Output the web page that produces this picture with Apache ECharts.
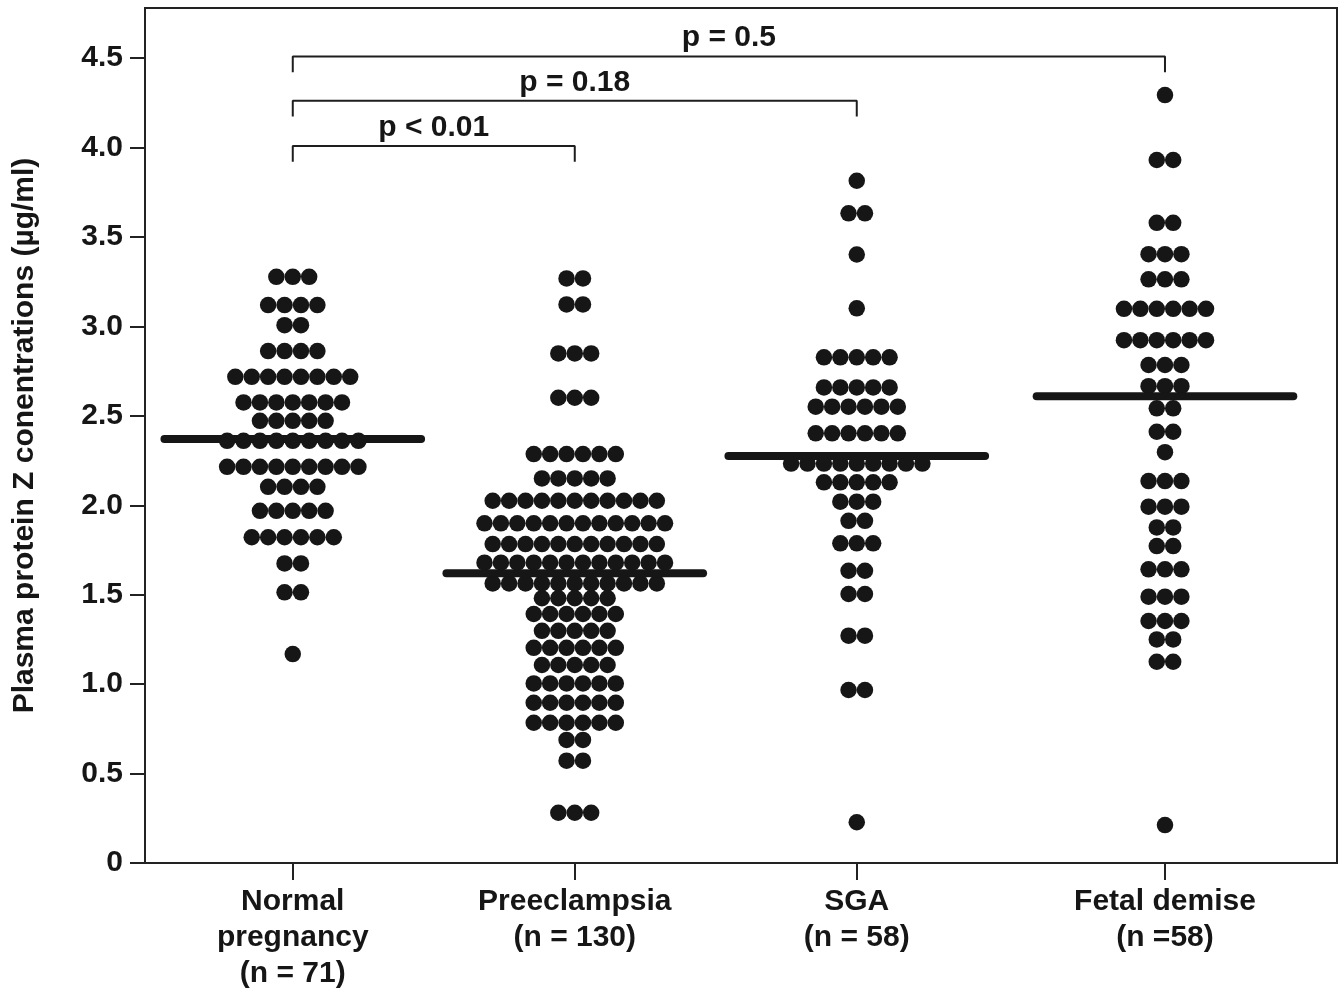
<!DOCTYPE html>
<html>
<head>
<meta charset="utf-8">
<script src="https://cdn.jsdelivr.net/npm/echarts@6/dist/echarts.min.js"></script>
<style>
html,body{margin:0;padding:0;background:#fff;}
#chart{width:1344px;height:994px;}
</style>
</head>
<body>
<div id="chart"></div>
<script>
// ---- data ----
const groupLabels = ['Normal\npregnancy\n(n = 71)', 'Preeclampsia\n(n = 130)', 'SGA\n(n = 58)', 'Fetal demise\n(n =58)'];
const groupPos = [1, 2, 3, 4.093];
const yTicks = [0, 0.5, 1.0, 1.5, 2.0, 2.5, 3.0, 3.5, 4.0, 4.5];
// rows: [value, number of dots at that value]
const normalRows = [[3.277,3],[3.119,4],[3.007,2],[2.862,4],[2.718,8],[2.575,7],[2.472,5],[2.360,9],[2.215,9],[2.103,4],[1.969,5],[1.821,6],[1.675,2],[1.513,2],[1.168,1]];
const preeclampsiaRows = [[3.268,2],[3.123,2],[2.849,3],[2.601,3],[2.286,6],[2.150,5],[2.025,11],[1.899,12],[1.783,11],[1.679,12],[1.563,11],[1.480,5],[1.392,6],[1.298,5],[1.203,6],[1.107,5],[1.004,6],[0.896,6],[0.784,6],[0.688,2],[0.572,2],[0.281,3]];
const sgaRows = [[3.814,1],[3.632,2],[3.402,1],[3.101,1],[2.827,5],[2.659,5],[2.551,6],[2.402,6],[2.233,9],[2.128,5],[2.020,3],[1.913,2],[1.787,3],[1.634,2],[1.504,2],[1.271,2],[0.967,2],[0.228,1]];
const fetalRows = [[4.293,1],[3.930,2],[3.579,2],[3.404,3],[3.263,3],[3.098,6],[2.923,6],[2.784,3],[2.666,3],[2.542,2],[2.411,2],[2.297,1],[2.135,3],[1.992,3],[1.876,2],[1.772,2],[1.642,3],[1.489,3],[1.353,3],[1.250,2],[1.125,2],[0.212,1]];
const groupMeans = [2.370, 1.620, 2.275, 2.610];
const brackets = [
  {from: 0, to: 1, y: 4.008, text: 'p < 0.01'},
  {from: 0, to: 2, y: 4.261, text: 'p = 0.18'},
  {from: 0, to: 3, y: 4.509, text: 'p = 0.5'}
];

// ---- layout constants ----
const dotStep = 0.0582;   // horizontal step between dots (x units)
const meanHalf = 0.455;   // half-width of mean bar (x units)
const legLen = 0.088;     // bracket leg length (y units)
const ink = '#161616';
const font = '"Liberation Sans", Arial, Helvetica, sans-serif';
const fs = 30;

const allRows = [normalRows, preeclampsiaRows, sgaRows, fetalRows];
const dots = [];
allRows.forEach((rows, g) => {
  rows.forEach(([v, n]) => {
    for (let i = 0; i < n; i++) {
      dots.push([groupPos[g] + (i - (n - 1) / 2) * dotStep, v]);
    }
  });
});

const series = [{
  type: 'scatter',
  data: dots,
  symbol: 'circle',
  symbolSize: 16.5,
  itemStyle: {color: ink, opacity: 1},
  z: 2
}];

groupMeans.forEach((m, g) => {
  series.push({
    type: 'line',
    data: [[groupPos[g] - meanHalf, m], [groupPos[g] + meanHalf, m]],
    symbol: 'none',
    lineStyle: {color: ink, width: 8, cap: 'round', opacity: 1},
    z: 3
  });
});

const labelData = [];
brackets.forEach(b => {
  const x1 = groupPos[b.from], x2 = groupPos[b.to];
  series.push({
    type: 'line',
    data: [[x1, b.y - legLen], [x1, b.y], [x2, b.y], [x2, b.y - legLen]],
    symbol: 'none',
    lineStyle: {color: '#1e1e1e', width: 2},
    z: 2
  });
  labelData.push({value: [(x1 + x2) / 2, b.y], name: b.text});
});
series.push({
  type: 'scatter',
  data: labelData,
  symbolSize: 1,
  itemStyle: {color: 'rgba(0,0,0,0)', opacity: 1},
  label: {
    show: true, position: 'top', distance: 3,
    formatter: p => p.name,
    fontFamily: font, fontWeight: 'bold', fontSize: fs, color: ink
  },
  z: 4
});

const chart = echarts.init(document.getElementById('chart'), null, {renderer: 'canvas'});
chart.setOption({
  animation: false,
  backgroundColor: '#fff',
  grid: {left: 145, right: 7, top: 8, bottom: 131, show: true, borderColor: '#222', borderWidth: 2, containLabel: false},
  xAxis: {
    type: 'value', min: 0.476, max: 4.703,
    splitLine: {show: false},
    axisLine: {show: true, onZero: false, lineStyle: {color: '#222', width: 2}},
    axisTick: {show: true, length: 17, inside: false, customValues: groupPos, lineStyle: {color: '#222', width: 2}},
    axisLabel: {
      show: true, customValues: groupPos, margin: 21,
      formatter: v => {
        let best = 0;
        groupPos.forEach((p, i) => { if (Math.abs(p - v) < Math.abs(groupPos[best] - v)) best = i; });
        return groupLabels[best];
      },
      fontFamily: font, fontWeight: 'bold', fontSize: fs, color: ink, lineHeight: 36, align: 'center'
    }
  },
  yAxis: {
    type: 'value', min: 0, max: 4.78,
    name: 'Plasma protein Z conentrations (µg/ml)',
    nameLocation: 'middle', nameGap: 105, nameRotate: 90,
    nameTextStyle: {fontFamily: font, fontWeight: 'bold', fontSize: 30, color: ink},
    splitLine: {show: false},
    axisLine: {show: true, lineStyle: {color: '#222', width: 2}},
    axisTick: {show: true, length: 15, inside: false, customValues: yTicks, lineStyle: {color: '#222', width: 2}},
    axisLabel: {
      show: true, customValues: yTicks, margin: 22,
      formatter: v => (v === 0 ? '0' : v.toFixed(1)),
      fontFamily: font, fontWeight: 'bold', fontSize: fs, color: ink
    }
  },
  series: series
});
</script>
</body>
</html>
